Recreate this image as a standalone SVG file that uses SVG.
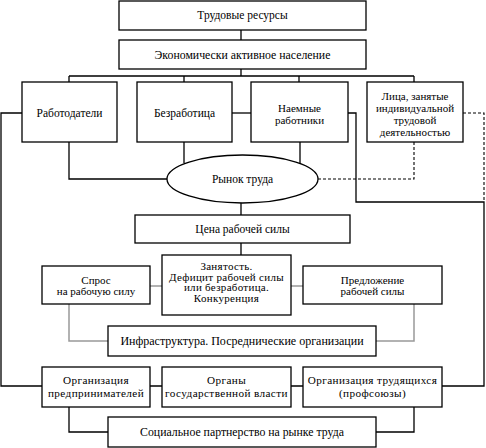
<svg xmlns="http://www.w3.org/2000/svg" width="486" height="448" viewBox="0 0 486 448">
<style>
rect, ellipse { fill: #fff; stroke: #000; stroke-width: 1.3; }
.c { fill: none; stroke: #000; stroke-width: 1.3; }
.g { fill: none; stroke: #999; stroke-width: 1.5; }
.d { fill: none; stroke: #000; stroke-width: 1.1; stroke-dasharray: 3 2; }
text { font-size: 11.5px; fill: #000; text-anchor: middle; }
.s { font-size: 11px; }
.z { font-size: 11px; letter-spacing: 0.3px; }
.b { font-size: 12px; }
.w { font-size: 11.2px; letter-spacing: 0.4px; }
.m { font-size: 11.8px; }
</style>
<rect x="0" y="0" width="486" height="448" style="fill:#fff;stroke:none"/>
<g id="connectors">
  <path class="c" d="M241 30V40M241 69V76M69 76H414M69 76V82M184 76V82M299 76V82M414 76V82"/>
  <path class="c" d="M22 113H1V386H42"/>
  <path class="c" d="M232 113H251"/>
  <path class="c" d="M348 113H356V202H484V386H442"/>
  <path class="d" d="M463 113H484V202"/>
  <path class="d" d="M414 142V179H318"/>
  <path class="c" d="M69 142V179H167"/>
  <path class="c" d="M184 142V163"/>
  <path class="c" d="M300 142V163"/>
  <path class="c" d="M241 203V215M241 243V255"/>
  <path class="g" d="M150 286H162M291 286H303"/>
  <path class="g" d="M69 304V341H108M376 341H414V304"/>
  <path class="c" d="M150 386H162M291 386H303"/>
  <path class="c" d="M69 407V432H108M376 432H414V407"/>
</g>
<g font-family="'Liberation Serif', 'Times New Roman', 'DejaVu Serif', serif">
<g id="n1"><rect x="119" y="1" width="247" height="29"/><text x="242.5" y="19">Трудовые ресурсы</text></g>
<g id="n2"><rect x="119" y="40" width="247" height="29"/><text class="m" x="242.5" y="58.5">Экономически активное население</text></g>
<g id="n3"><rect x="22" y="82" width="95" height="60"/><text x="69.5" y="117">Работодатели</text></g>
<g id="n4"><rect x="137" y="82" width="95" height="60"/><text x="184.5" y="117">Безработица</text></g>
<g id="n5"><rect x="251" y="82" width="97" height="60"/><text x="299.5" y="112" class="s">Наемные</text><text x="299.5" y="123.5" class="s">работники</text></g>
<g id="n6"><rect x="367" y="82" width="96" height="60"/><text class="s" x="415" y="100">Лица, занятые</text><text class="s" x="415" y="112">индивидуальной</text><text class="s" x="415" y="124">трудовой</text><text class="s" x="415" y="136">деятельностью</text></g>
<g id="n7"><ellipse cx="242.5" cy="179" rx="75.5" ry="24"/><text x="242.5" y="183">Рынок труда</text></g>
<g id="n8"><rect x="135" y="215" width="215" height="28"/><text x="242.5" y="233">Цена рабочей силы</text></g>
<g id="n9"><rect x="162" y="255" width="129" height="60"/><text class="z" x="226.5" y="270">Занятость.</text><text class="z" x="226.5" y="280.7">Дефицит рабочей силы</text><text class="z" x="226.5" y="291.3">или безработица.</text><text class="z" x="226.5" y="302">Конкуренция</text></g>
<g id="n10"><rect x="42" y="266" width="108" height="38"/><text class="s" x="96" y="284">Спрос</text><text class="s" x="96" y="295">на рабочую силу</text></g>
<g id="n11"><rect x="303" y="266" width="139" height="38"/><text class="s" x="372.5" y="284">Предложение</text><text class="s" x="372.5" y="295">рабочей силы</text></g>
<g id="n12"><rect x="108" y="326" width="268" height="30"/><text class="b" x="242" y="345">Инфраструктура. Посреднические организации</text></g>
<g id="n13"><rect x="42" y="367" width="108" height="40"/><text class="w" x="96" y="384">Организация</text><text class="w" x="96" y="396.5">предпринимателей</text></g>
<g id="n14"><rect x="162" y="367" width="129" height="40"/><text class="w" x="226.5" y="384">Органы</text><text class="w" x="226.5" y="396.5">государственной власти</text></g>
<g id="n15"><rect x="303" y="367" width="139" height="40"/><text class="w" x="372.5" y="384">Организация трудящихся</text><text class="w" x="372.5" y="396.5">(профсоюзы)</text></g>
<g id="n16"><rect x="108" y="417" width="268" height="30"/><text class="m" x="242" y="436">Социальное партнерство на рынке труда</text></g>
</g>
</svg>
